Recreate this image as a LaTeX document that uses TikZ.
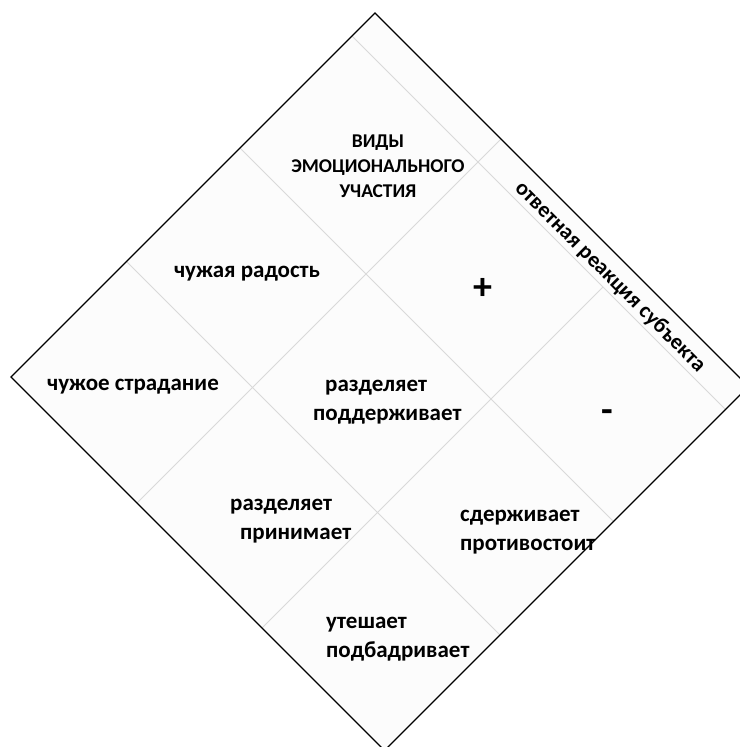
\documentclass[tikz,border=0pt]{standalone}
\usepackage{fontspec}
\setmainfont{Carlito}
\begin{document}
\begin{tikzpicture}[x=1pt,y=-1pt,
  grid/.style={draw=black!15,line width=0.9pt},
  frame/.style={draw=black,line width=1.2pt},
  cell/.style={font=\fontsize{23}{29}\selectfont\bfseries,align=center,inner sep=0pt},
  head/.style={font=\fontsize{19.5}{25}\selectfont\bfseries,align=center,inner sep=0pt},
  sign/.style={font=\fontsize{38}{38}\selectfont\bfseries,inner sep=0pt}]
\useasboundingbox (0,0) rectangle (739,747);
\coordinate (T) at (375,13);
\coordinate (L) at (11,377);
\coordinate (B) at (384.5,750.5);
\coordinate (R) at (748.5,386.5);
\coordinate (d1a) at (126.5,261.5); \coordinate (d1b) at (500,635);
\coordinate (d2a) at (240,148);     \coordinate (d2b) at (613.5,521.5);
\coordinate (d3a) at (352,36);      \coordinate (d3b) at (725.5,409.5);
\coordinate (s1a) at (137,503);     \coordinate (s1b) at (501,139);
\coordinate (s2a) at (262,628);     \coordinate (s2b) at (603,287);
\fill[black!1] (T) -- (R) -- (B) -- (L) -- cycle;
\draw[grid] (d1a) -- (d1b);
\draw[grid] (d2a) -- (d2b);
\draw[grid] (d3a) -- (d3b);
\draw[grid] (s1a) -- (s1b);
\draw[grid] (s2a) -- (s2b);
\draw[frame] (T) -- (R) -- (B) -- (L) -- cycle;
\node[head] (vidy) at (378,166) {ВИДЫ\\ЭМОЦИОНАЛЬНОГО\\УЧАСТИЯ};
\node[cell] (radost) at (247,274) {чужая радость};
\node[cell] (stradanie) at (133,387) {чужое страдание};
\node[cell,align=left,anchor=west] (podderzh) at (313,402) {\hspace*{12pt}разделяет\\поддерживает};
\node[cell,align=left,anchor=west] (prinim) at (230,521) {разделяет\\\hspace*{10pt}принимает};
\node[cell,align=left,anchor=west] (sderzh) at (460,532) {сдерживает\\противостоит};
\node[cell,align=left,anchor=west] (uteshaet) at (326,639) {утешает\\подбадривает};
\node[sign] (plus) at (483,289) {+};
\node[sign] (minus) at (607,416) {-};
\node[cell,font=\fontsize{22}{26}\selectfont\bfseries,rotate=-45] (reakt) at (610,277) {ответная реакция субъекта};
\end{tikzpicture}
\end{document}
